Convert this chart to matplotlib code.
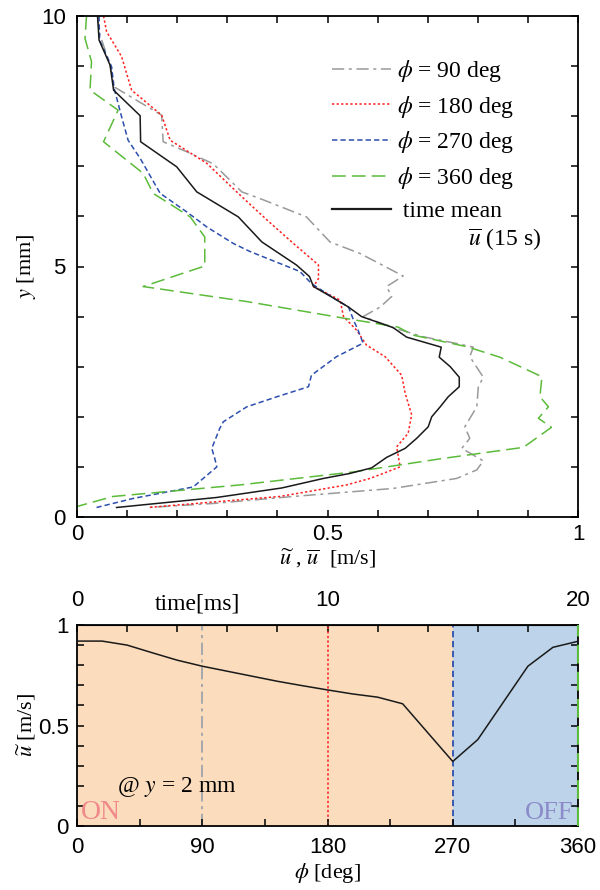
import numpy as np
import matplotlib.pyplot as plt
from matplotlib.lines import Line2D

plt.rcParams['font.family'] = ['Liberation Serif', 'DejaVu Serif']
plt.rcParams['mathtext.fontset'] = 'stix'

# --- top panel: profiles u(y) at four phases + time mean ---
y_mean = [10, 9.52, 9.02, 8.52, 8.01, 7.49, 6.99, 6.49, 5.99, 5.49, 5.03, 4.8, 4.6, 4.37, 4.19, 4.0,
          3.78, 3.59, 3.39, 3.19, 3.0, 2.79, 2.6, 2.4, 2.2, 2.0, 1.8, 1.57, 1.37, 1.19, 0.98, 0.87,
          0.77, 0.58, 0.39, 0.19]
u_mean = [0.041, 0.044, 0.066, 0.073, 0.126, 0.127, 0.199, 0.239, 0.322, 0.369, 0.438, 0.464, 0.472,
          0.512, 0.542, 0.568, 0.631, 0.658, 0.727, 0.723, 0.745, 0.763, 0.763, 0.741, 0.725, 0.708,
          0.701, 0.678, 0.655, 0.618, 0.588, 0.545, 0.492, 0.409, 0.279, 0.079]

y_90 = [10, 9.65, 9.02, 8.58, 8.02, 7.49, 7.29, 7.05, 6.49, 6.33, 5.99, 5.49, 5.26, 4.81, 4.60, 4.40,
        4.19, 4.0, 3.78, 3.6, 3.45, 3.39, 3.2, 2.79, 2.6, 2.2, 1.8, 1.57, 1.37, 1.12, 0.94, 0.77, 0.57,
        0.41, 0.27, 0.19]
u_90 = [0.041, 0.045, 0.066, 0.075, 0.169, 0.172, 0.219, 0.272, 0.329, 0.372, 0.458, 0.505, 0.565,
        0.651, 0.618, 0.628, 0.605, 0.571, 0.631, 0.69, 0.764, 0.791, 0.784, 0.811, 0.801, 0.798,
        0.774, 0.784, 0.768, 0.811, 0.798, 0.758, 0.631, 0.432, 0.272, 0.142]

y_180 = [10, 9.69, 9.19, 8.52, 8.02, 7.52, 7.06, 6.43, 5.93, 5.46, 5.03, 4.76, 4.6, 4.33, 4.0, 3.73,
         3.43, 3.2, 2.83, 2.47, 2.04, 1.67, 1.40, 1.0, 0.77, 0.64, 0.41, 0.31, 0.19]
u_180 = [0.053, 0.059, 0.089, 0.109, 0.169, 0.186, 0.259, 0.325, 0.379, 0.432, 0.482, 0.482, 0.472,
         0.525, 0.532, 0.558, 0.578, 0.615, 0.648, 0.655, 0.668, 0.661, 0.638, 0.645, 0.585, 0.538,
         0.405, 0.285, 0.142]

y_270 = [10, 9.52, 8.99, 8.56, 7.99, 7.52, 7.16, 6.46, 6.09, 5.79, 5.46, 5.30, 4.90, 4.66, 4.37, 4.19,
         3.93, 3.73, 3.47, 3.2, 2.83, 2.6, 2.4, 2.2, 1.9, 1.77, 1.37, 1.17, 1.0, 0.6, 0.37, 0.19]
u_270 = [0.044, 0.045, 0.069, 0.074, 0.089, 0.102, 0.126, 0.166, 0.219, 0.259, 0.312, 0.345, 0.445,
         0.468, 0.512, 0.542, 0.552, 0.561, 0.571, 0.518, 0.468, 0.462, 0.399, 0.339, 0.292, 0.285,
         0.269, 0.275, 0.279, 0.232, 0.112, 0.039]

y_360 = [10, 9.55, 9.09, 8.52, 8.12, 7.49, 6.86, 6.46, 5.99, 5.59, 5.01, 4.80, 4.60, 4.30, 3.97, 3.79,
         3.63, 3.40, 3.19, 2.80, 2.40, 2.20, 1.97, 1.79, 1.39, 1.17, 0.90, 0.64, 0.41, 0.21]
u_360 = [0.019, 0.016, 0.029, 0.026, 0.082, 0.053, 0.132, 0.152, 0.226, 0.255, 0.255, 0.192, 0.132,
         0.339, 0.532, 0.641, 0.671, 0.778, 0.844, 0.928, 0.924, 0.941, 0.921, 0.947, 0.891, 0.731,
         0.552, 0.325, 0.072, 0.0]

# --- bottom panel: u at y = 2 mm over one cycle ---
phi_deg = [0, 18, 36, 54, 72, 90, 108, 126, 144, 162, 180, 198, 216, 234, 270, 288, 324, 342, 360]
u_phase = [0.92, 0.92, 0.90, 0.862, 0.825, 0.795, 0.77, 0.745, 0.72, 0.698, 0.677, 0.657, 0.641,
           0.608, 0.321, 0.43, 0.795, 0.889, 0.919]

c_gray = '#9a9a9a'
c_red = '#ff2020'
c_blue = '#2c4fae'
c_green = '#5cbb3a'
c_black = '#1a1a1a'

sans = ['Liberation Sans', 'DejaVu Sans']
tick_fs = 16
lab_fs = 16

fig = plt.figure(figsize=(6, 8.9), dpi=100)
ax = fig.add_axes([77 / 600, 1 - 517 / 890, 501 / 600, 501 / 890])

ax.plot(u_90, y_90, color=c_gray, lw=1.1, dashes=[8, 3, 2, 3])
ax.plot(u_180, y_180, color=c_red, lw=1.1, dashes=[1.5, 1.5])
ax.plot(u_270, y_270, color=c_blue, lw=1.1, dashes=[3.5, 2])
ax.plot(u_360, y_360, color=c_green, lw=1.1, dashes=[9, 4])
ax.plot(u_mean, y_mean, color=c_black, lw=1.1)

ax.set_xlim(0, 1)
ax.set_ylim(0, 10)
ax.set_xticks(np.arange(0, 1.01, 0.1))
ax.set_xticklabels(['0', '', '', '', '', '0.5', '', '', '', '', '1'])
ax.set_yticks(np.arange(0, 11, 1))
ax.set_yticklabels(['0', '', '', '', '', '5', '', '', '', '', '10'])
ax.tick_params(direction='in', top=True, right=True, length=5, width=1.1, labelsize=tick_fs, pad=8)
ax.tick_params(axis='x', pad=5)
for lab in ax.get_xticklabels() + ax.get_yticklabels():
    lab.set_family(sans)
for s in ax.spines.values():
    s.set_linewidth(1.3)
ax.set_xlabel(r'$\widetilde{u}$ , $\overline{u}$  [m/s]', fontsize=lab_fs, labelpad=1)
ax.set_ylabel(r'$y$ [mm]', fontsize=lab_fs, labelpad=2)

handles = [Line2D([], [], color=c_gray, lw=1.1, dashes=[8, 3, 2, 3]),
           Line2D([], [], color=c_red, lw=1.1, dashes=[1.5, 1.5]),
           Line2D([], [], color=c_blue, lw=1.1, dashes=[3.5, 2]),
           Line2D([], [], color=c_green, lw=1.1, dashes=[9, 4]),
           Line2D([], [], color=c_black, lw=1.6)]
labels = [r'$\phi$ = 90 deg', r'$\phi$ = 180 deg', r'$\phi$ = 270 deg', r'$\phi$ = 360 deg',
          ' time mean']
ax.legend(handles, labels, loc='upper left', bbox_to_anchor=(0.49, 0.935), frameon=False,
          fontsize=17, handlelength=2.5, handletextpad=0.25, labelspacing=0.41, borderaxespad=0)
ax.text(0.78, 0.553, r'$\overline{u}$ (15 s)', transform=ax.transAxes, fontsize=17,
        ha='left', va='center')

# bottom panel
bx = fig.add_axes([77 / 600, 1 - 826 / 890, 501 / 600, 201 / 890])
bx.axvspan(0, 270, color='#fbdcbd', lw=0, zorder=0)
bx.axvspan(270, 360, color='#bcd3e9', lw=0, zorder=0)
bx.axvline(90, color='#8f9aa8', lw=1.1, dashes=[8, 3, 2, 3], zorder=1)
bx.axvline(180, color=c_red, lw=1.1, dashes=[1.5, 1.5], zorder=1)
bx.axvline(270, color=c_blue, lw=1.3, dashes=[3.5, 2], zorder=1)
bx.axvline(360, color=c_green, lw=1.5, dashes=[9, 4], zorder=5, clip_on=False)
bx.plot(phi_deg, u_phase, color=c_black, lw=1.1, zorder=3)

bx.set_xlim(0, 360)
bx.set_ylim(0, 1)
bx.set_xticks(np.arange(0, 361, 45))
bx.set_xticklabels(['0', '', '90', '', '180', '', '270', '', '360'])
bx.set_yticks(np.arange(0, 1.01, 0.1))
bx.set_yticklabels(['0', '', '', '', '', '0.5', '', '', '', '', '1'])
bx.tick_params(direction='in', right=True, length=5, width=1.1, labelsize=tick_fs, pad=8)
bx.tick_params(axis='y', pad=6)
for lab in bx.get_xticklabels() + bx.get_yticklabels():
    lab.set_family(sans)
for s in bx.spines.values():
    s.set_linewidth(1.3)
bx.set_xlabel(r'$\phi$ [deg]', fontsize=lab_fs, labelpad=2)
bx.set_ylabel(r'$\widetilde{u}$ [m/s]', fontsize=lab_fs, labelpad=0)

top = bx.secondary_xaxis('top', functions=(lambda p: p / 18.0, lambda t: t * 18.0))
top.set_xticks(np.arange(0, 21, 2))
top.set_xticklabels(['0', '', '', '', '', '10', '', '', '', '', '20'])
top.tick_params(direction='in', length=5, width=1.1, labelsize=tick_fs, pad=10)
for lab in top.get_xticklabels():
    lab.set_family(sans)
bx.text(0.24, 1.05, 'time[ms]', transform=bx.transAxes, fontsize=17, ha='center', va='bottom')

bx.text(29, 0.17, r'@ $y$ = 2 mm', fontsize=17, ha='left', va='baseline')
bx.text(3, 0.035, 'ON', fontsize=20, color='#f08a8a', ha='left', va='baseline')
bx.text(357, 0.035, 'OFF', fontsize=19, color='#8b8bc9', ha='right', va='baseline')

fig.savefig('out.png', dpi=100)
